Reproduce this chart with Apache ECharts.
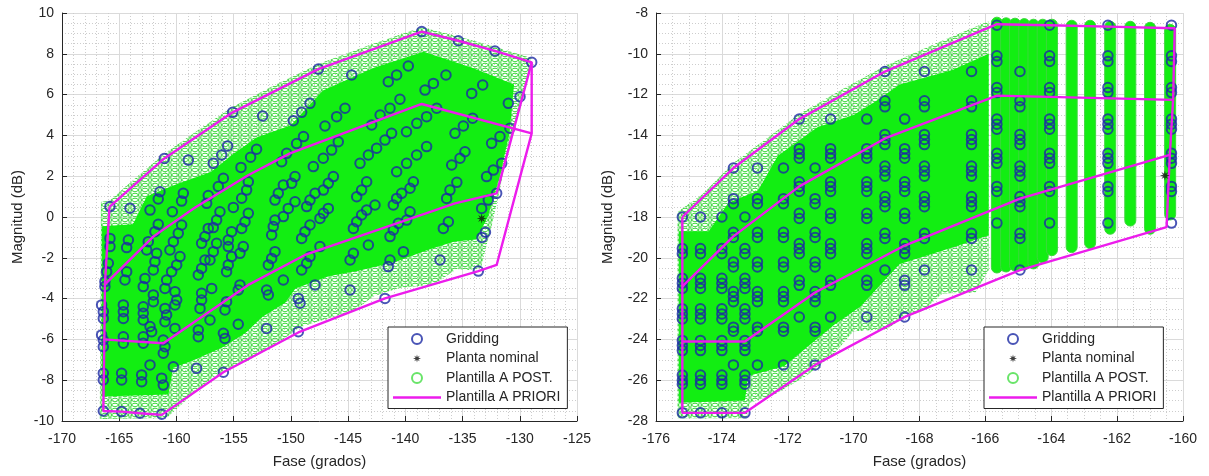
<!DOCTYPE html>
<html><head><meta charset="utf-8">
<script src="https://cdn.jsdelivr.net/npm/echarts/dist/echarts.min.js"></script>
<style>html,body{margin:0;padding:0;background:#fff}#c{width:1209px;height:476px}</style>
</head><body><div id="c"></div><script>
// ---------- axes ----------
const LEFT_X = [-170, -125, 5];
const LEFT_Y = [-10, 10, 2];
const RIGHT_X = [-176, -160, 2];
const RIGHT_Y = [-28, -8, 2];
const X_TITLE = 'Fase (grados)';
const Y_TITLE = 'Magnitud (dB)';
const LEGEND_NAMES = ['Gridding', 'Planta nominal', 'Plantilla A POST.', 'Plantilla A PRIORI'];

// ---------- LEFT plot data ----------
const gridLeft = [
[-165.81,0.51],[-164.06,0.43],[-162.31,0.34],[-160.36,0.26],
[-161.06,2.87],[-158.96,2.79],[-156.78,2.63],
[-155.09,5.13],[-152.47,4.95],[-149.79,4.72],
[-147.6,7.25],[-144.69,6.96],
[-138.57,9.09],[-135.37,8.64],[-132.17,8.14],[-128.96,7.58],
[-156.05,3.04],[-155.53,3.48],
[-154.36,2.43],[-153.52,2.93],[-153.0,3.32],
[-150.81,2.71],[-150.37,3.12],[-149.5,3.6],[-148.9,3.94],
[-149.06,5.13],[-148.33,5.57],
[-141.49,6.63],[-140.76,6.96],[-139.74,7.4],
[-138.28,6.22],[-137.55,6.55],[-136.45,6.96],
[-134.2,6.06],[-133.24,6.47],
[-131.0,5.57],[-129.98,5.9],
[-147.02,4.46],[-146.0,4.92],[-145.27,5.33],
[-142.94,4.51],[-142.2,5.0],[-141.34,5.33],[-140.47,5.77],
[-139.9,4.18],[-139.0,4.59],[-138.14,4.92],[-137.26,5.33],
[-135.66,4.1],[-134.93,4.46],[-134.12,4.84],
[-132.46,3.61],[-131.73,3.94],[-130.86,4.35],
[-148.04,2.47],[-147.17,2.88],[-146.44,3.28],[-145.86,3.69],
[-143.96,2.63],[-143.23,3.04],[-142.51,3.37],[-141.78,3.77],[-141.2,4.1],
[-140.76,2.22],[-139.89,2.63],[-139.01,3.04],[-138.14,3.45],
[-135.95,2.55],[-135.22,2.88],[-134.79,3.2],
[-132.9,1.98],[-132.31,2.3],[-131.58,2.63],
[-133.33,0.42],[-132.75,0.83],[-132.02,1.16],
[-133.3,-1.0],[-133.0,-0.75],[-133.62,-2.65],
[-161.44,1.24],[-161.59,0.88],
[-159.4,1.16],[-159.55,0.78],
[-157.22,1.05],[-157.36,0.67],
[-155.9,1.9],[-156.34,1.49],
[-153.72,1.73],[-153.87,1.32],[-154.3,0.92],[-155.03,0.47],
[-150.66,1.57],[-151.1,1.16],[-151.39,0.83],
[-149.64,1.98],[-149.93,1.65],
[-165.81,-1.05],[-165.81,-1.45],
[-164.2,-1.13],[-164.35,-1.5],
[-161.59,-0.36],[-161.88,-0.72],[-162.46,-1.21],[-162.6,-1.62],
[-159.55,-0.39],[-159.84,-0.8],[-160.27,-1.21],[-160.57,-1.62],
[-157.22,-0.56],[-157.51,-0.96],[-157.8,-1.29],
[-156.2,0.26],[-156.49,-0.15],[-156.78,-0.52],
[-155.18,-0.72],[-155.47,-1.13],[-155.47,-1.45],
[-153.72,0.18],[-154.01,-0.23],[-154.3,-0.56],
[-151.39,-0.15],[-151.54,-0.47],[-151.68,-0.88],
[-150.23,0.42],[-150.66,0.02],[-149.64,0.75],
[-165.95,-2.27],[-166.1,-2.68],[-166.25,-3.17],[-166.25,-3.41],
[-164.35,-2.68],[-164.5,-3.09],
[-161.73,-1.78],[-161.88,-2.19],[-162.02,-2.6],[-162.75,-3.01],[-162.9,-3.41],
[-159.69,-1.94],[-159.98,-2.35],[-160.42,-2.68],[-160.86,-3.09],[-161.0,-3.5],
[-157.51,-2.11],[-157.8,-2.52],[-158.09,-2.84],
[-156.49,-1.29],[-156.78,-1.7],[-157.07,-2.11],
[-155.18,-1.94],[-155.47,-2.35],[-155.62,-2.68],
[-154.16,-1.45],[-154.45,-1.78],
[-151.39,-1.7],[-151.68,-2.03],[-151.97,-2.35],
[-150.66,-3.09],[-154.45,-3.33],[-154.6,-3.58],
[-162.02,-3.82],[-162.02,-4.15],
[-160.13,-3.66],[-159.98,-4.07],[-160.13,-4.31],
[-166.54,-4.31],[-166.39,-4.64],[-166.39,-4.97],
[-164.64,-4.31],[-164.64,-4.64],[-164.64,-4.97],
[-162.9,-4.4],[-162.9,-4.72],[-162.9,-5.05],
[-161.0,-4.48],[-160.86,-4.8],[-161.0,-5.13],
[-162.31,-5.37],[-162.17,-5.62],[-160.13,-5.46],
[-166.54,-5.78],[-166.39,-6.03],[-166.39,-6.36],
[-164.64,-5.87],[-164.64,-6.19],
[-162.9,-5.87],[-162.9,-6.19],
[-161.15,-6.03],[-161.0,-6.36],[-161.15,-6.68],
[-162.31,-7.25],[-160.27,-7.34],
[-166.39,-7.66],[-166.39,-7.99],
[-164.79,-7.66],[-164.79,-7.99],
[-163.04,-7.74],[-163.04,-8.07],
[-161.29,-7.9],[-161.15,-8.24],
[-166.39,-9.51],[-164.79,-9.54],[-163.19,-9.62],[-161.29,-9.67],
[-157.8,-3.74],[-157.8,-4.07],[-157.94,-4.48],[-156.92,-3.5],
[-155.62,-4.15],[-155.76,-4.56],
[-158.09,-5.54],[-158.09,-5.87],
[-155.9,-5.7],[-155.76,-5.95],[-157.07,-5.05],[-154.6,-5.26],
[-152.12,-3.58],[-151.97,-3.82],[-152.12,-5.46],
[-158.24,-7.42],[-155.9,-7.61],[-149.35,-5.62],
[-149.35,-3.99],[-149.2,-4.23],
[-148.62,0.51],[-148.33,0.83],[-147.89,1.16],[-147.16,1.32],[-146.73,1.65],[-146.29,1.98],
[-149.06,-1.05],[-148.77,-0.72],[-148.33,-0.39],[-147.46,-0.07],[-147.16,0.18],[-146.73,0.42],
[-149.06,-2.6],[-148.62,-2.27],[-148.33,-1.94],[-147.46,-1.45],
[-147.89,-3.33],[-144.83,-3.58],
[-144.54,-1.78],[-144.83,-2.11],
[-144.25,0.99],[-143.82,1.32],[-143.38,1.73],
[-144.54,-0.56],[-144.25,-0.23],[-143.82,0.1],[-143.38,0.34],[-142.65,0.59],
[-143.23,-1.37],
[-141.34,-0.96],[-141.05,-0.64],[-140.61,-0.31],[-139.88,-0.15],[-139.59,0.26],
[-141.05,0.59],[-140.76,0.91],[-140.32,1.16],[-139.59,1.41],[-139.3,1.73],
[-141.49,-2.43],[-141.34,-2.11],[-141.78,-3.99],[-140.17,-1.7],[-136.97,-2.11],
[-136.68,-0.56],[-136.24,-0.23],
[-136.39,0.91],[-136.1,1.32],[-135.5,1.7]
];
const nominalLeft = [[-133.33,-0.07]];
const prioriLeftOuter = [[-165.85,0.5],[-161.06,2.87],[-155.09,5.13],[-147.6,7.25],[-138.57,9.09],[-135.37,8.64],[-132.17,8.14],[-128.96,7.58],[-128.96,4.1],[-132.02,-2.35],[-133.62,-2.65],[-141.78,-3.99],[-149.35,-5.66],[-155.9,-7.61],[-161.29,-9.7],[-163.19,-9.62],[-164.79,-9.54],[-166.39,-9.51],[-166.3,-6.0],[-166.25,-3.3],[-165.85,0.5]];
const prioriLeftMid = [[-166.25,-3.3],[-162.0,-0.95],[-158.4,0.45],[-153.7,2.06],[-150.08,3.12],[-138.57,5.54],[-128.96,4.1]];
const prioriLeftLow = [[-166.4,-6.0],[-161.15,-6.19],[-153.72,-3.33],[-148.77,-1.86],[-135.66,0.67],[-132.02,1.16],[-128.96,7.58]];
const postLeftFringe = [[-166.6,0.75],[-165.85,0.8],[-163.5,1.95],[-161.06,3.1],[-158,4.3],[-155.09,5.4],[-151.5,6.45],[-147.6,7.5],[-143,8.45],[-138.57,9.3],[-135.37,8.85],[-132.17,8.35],[-129.0,7.8],[-129.3,6.8],[-129.9,5.6],[-130.6,4.2],[-131.3,2.6],[-131.8,1.2],[-132.4,-0.3],[-133.0,-1.6],[-133.4,-2.5],[-134.5,-2.6],[-135.5,-2.55],[-137.5,-3.3],[-140.7,-3.5],[-142.8,-3.9],[-144.5,-4.6],[-147.2,-5.05],[-149.2,-5.4],[-151.2,-6.2],[-153.6,-7.0],[-156.8,-7.85],[-158.8,-8.8],[-160.85,-9.85],[-166.7,-9.9]];
const postLeftCore = [[-166.5,-0.45],[-163.8,-0.35],[-162.6,1.0],[-160,1.6],[-157,2.2],[-155,3.1],[-153,3.9],[-150,4.5],[-147.2,6.2],[-142.8,7.3],[-138.4,8.1],[-134.1,7.3],[-130.5,6.5],[-130.9,4.1],[-131.7,2.1],[-132.8,0.0],[-133.8,-1.1],[-135.7,-1.2],[-138,-1.6],[-140.9,-2.2],[-143.8,-2.6],[-146.7,-2.9],[-149.6,-3.5],[-150.5,-4.2],[-152.5,-4.9],[-154,-5.7],[-156,-6.4],[-158.4,-7.0],[-160.3,-7.4],[-160.7,-8.7],[-166.5,-8.8]];

// ---------- RIGHT plot data ----------
const gridA_phase = [-175.2,-174.65,-174.0,-173.3];
const gridA_mag = [-18.0,-19.55,-19.8,-21.0,-21.25,-21.5,-22.5,-22.75,-23.0,-24.05,-24.3,-24.55,-25.75,-26.0,-26.2,-27.6];
const gridB_phase = [-173.65,-172.92,-172.13,-171.17];
const gridB_mag = [-15.6,-17.1,-17.35,-18.75,-19.0,-20.2,-20.45,-21.65,-21.9,-22.15,-23.4,-23.6,-25.25];
const gridC_phase = [-171.65,-170.7,-169.6,-168.45];
const gridC_mag = [-13.2,-14.65,-14.9,-15.12,-16.27,-16.5,-16.75,-17.82,-18.07,-19.3,-19.55,-19.8,-21.1,-21.35,-22.9];
const gridD_phase = [-169.05,-167.85,-166.42,-164.95];
const gridD_mag = [-10.87,-12.3,-12.6,-13.95,-14.2,-14.45,-15.5,-15.75,-16.0,-17.0,-17.25,-17.5,-18.8,-19.05,-20.6];
const gridE_phase = [-165.65,-164.05,-162.28,-160.35];
const gridE_mag = [-8.6,-10.1,-10.38,-11.65,-11.9,-13.2,-13.45,-13.7,-14.88,-15.12,-15.37,-16.5,-16.75,-18.3];
const nominalRight = [[-160.55,-15.97]];
const prioriRightOuter = [[-175.2,-18.0],[-173.65,-15.6],[-171.65,-13.2],[-169.05,-10.87],[-165.65,-8.55],[-164.05,-8.6],[-162.28,-8.67],[-160.25,-8.75],[-160.3,-12.26],[-160.4,-14.95],[-160.5,-18.5],[-164.95,-20.6],[-168.45,-22.9],[-171.17,-25.25],[-173.3,-27.6],[-175.2,-27.6],[-175.2,-18.0]];
const prioriRightMid = [[-175.2,-21.4],[-173.65,-18.95],[-171.65,-16.5],[-169.05,-14.15],[-165.65,-12.05],[-160.3,-12.26]];
const prioriRightLow = [[-175.2,-24.1],[-173.3,-24.1],[-171.17,-21.7],[-168.45,-19.4],[-164.95,-17.1],[-160.4,-14.95]];
const postRightFringe = [[-175.35,-17.75],[-174.6,-16.9],[-173.65,-15.35],[-172.6,-14.1],[-171.65,-12.95],[-170.3,-11.7],[-169.05,-10.6],[-167.3,-9.35],[-165.9,-8.4],[-165.9,-20.6],[-166.3,-21.7],[-167.3,-21.75],[-167.9,-22.6],[-168.5,-22.95],[-169.0,-23.5],[-170.0,-23.6],[-170.6,-24.7],[-171.4,-25.75],[-172.4,-26.7],[-173.15,-27.1],[-173.25,-27.87],[-175.35,-27.87]];
const postRightCore = [[-175.3,-18.7],[-174.4,-18.7],[-173.8,-17.3],[-172.9,-16.7],[-172.3,-15.0],[-171.1,-13.6],[-170.0,-13.0],[-169.3,-12.3],[-168.6,-11.5],[-167.0,-10.8],[-165.9,-10.0],[-165.9,-18.9],[-167.0,-19.5],[-168.6,-20.3],[-169.8,-22.4],[-170.6,-23.3],[-171.5,-24.5],[-172.1,-25.3],[-173.2,-25.8],[-173.3,-27.0],[-175.3,-27.1]];
const postColPhase = [-165.65,-165.37,-165.1,-164.82,-164.54,-164.26,-163.98,-163.38,-162.82,-162.21,-161.6,-161.0,-160.39];
const postColTop = [-8.45,-8.48,-8.5,-8.52,-8.55,-8.55,-8.55,-8.6,-8.6,-8.65,-8.65,-8.7,-8.8];
const postColBottom = [-20.5,-20.45,-20.4,-20.35,-20.3,-20.0,-19.65,-19.5,-19.3,-18.6,-18.2,-18.6,-17.9];

// ---------- build ----------
const gridRight = [];
[[gridA_phase,gridA_mag],[gridB_phase,gridB_mag],[gridC_phase,gridC_mag],[gridD_phase,gridD_mag],[gridE_phase,gridE_mag]]
  .forEach(([ph, mg]) => ph.forEach(p => mg.forEach(m => gridRight.push([p, m]))));
const postCols = postColPhase.map((p, i) => [p, postColTop[i], postColBottom[i]]);

const FONT = '"Liberation Sans", Arial, Helvetica, sans-serif';
const C_BLUE = '#1b29a4', C_GREEN = '#12ee12', C_GREEN_LINE = '#3cd83c', C_MAG = '#ec1cec', C_TXT = '#262626';

function circlePattern(color) {
  const c = document.createElement('canvas');
  c.width = 10; c.height = 5;
  const g = c.getContext('2d');
  g.strokeStyle = color; g.lineWidth = 1.1;
  for (let dx = -10; dx <= 10; dx += 10) for (let dy = -5; dy <= 5; dy += 5) {
    g.beginPath(); g.arc(5 + dx, 2.5 + dy, 4.2, 0, Math.PI * 2); g.stroke();
  }
  return c;
}
const PAT = { image: circlePattern(C_GREEN_LINE), repeat: 'repeat' };

function polySeries(pts, idx, fill, z) {
  return {
    type: 'custom', xAxisIndex: idx, yAxisIndex: idx, z: z, silent: true, data: pts,
    renderItem: (params, api) => {
      if (params.dataIndex !== 0) return null;
      return { type: 'polygon', shape: { points: pts.map(p => api.coord(p)) }, style: { fill: fill, stroke: null } };
    }
  };
}
function lineSeries(pts, idx) {
  return { type: 'line', name: 'Plantilla A PRIORI', xAxisIndex: idx, yAxisIndex: idx, data: pts, symbol: 'none',
    showSymbol: false, z: 6, silent: true, lineStyle: { color: C_MAG, width: 2.4 }, itemStyle: { color: C_MAG } };
}
function gridSeries(pts, idx) {
  return { type: 'scatter', name: 'Gridding', xAxisIndex: idx, yAxisIndex: idx, data: pts, symbol: 'circle', symbolSize: 9.5, z: 5, silent: true,
    itemStyle: { color: 'rgba(0,0,0,0)', borderColor: C_BLUE, borderWidth: 2 } };
}
const STAR_BODY = 'M0,-10L1.6,-3.6L7.07,-7.07L3.6,-1.6L10,0L3.6,1.6L7.07,7.07L1.6,3.6L0,10L-1.6,3.6L-7.07,7.07L-3.6,1.6L-10,0L-3.6,-1.6L-7.07,-7.07L-1.6,-3.6Z';
const STAR = 'path://' + STAR_BODY;
const STAR_LEG = 'path://' + STAR_BODY + ' M-12.5,-12.5L-12.4,-12.5L-12.4,-12.4Z M12.5,12.5L12.4,12.5L12.4,12.4Z';
const LINE_LEG = 'path://M0,0L48,0L48,2.4L0,2.4Z';
function nominalSeries(pts, idx) {
  return { type: 'scatter', name: 'Planta nominal', xAxisIndex: idx, yAxisIndex: idx, data: pts, symbol: STAR, symbolSize: 10, z: 7, silent: true,
    itemStyle: { color: '#111' } };
}
function postLegendSeries(idx) {
  return { type: 'scatter', name: 'Plantilla A POST.', xAxisIndex: idx, yAxisIndex: idx, data: [], symbol: 'circle', symbolSize: 9,
    itemStyle: { color: 'rgba(0,0,0,0)', borderColor: '#44dd44', borderWidth: 1.6 } };
}
function xAxis(idx, r) {
  return { gridIndex: idx, type: 'value', min: r[0], max: r[1], interval: r[2],
    name: X_TITLE, nameLocation: 'middle', nameGap: 33,
    nameTextStyle: { fontFamily: FONT, fontSize: 15, color: C_TXT },
    axisLine: { show: true, onZero: false, lineStyle: { color: C_TXT, width: 1 } },
    axisTick: { show: true, inside: true, length: 5, lineStyle: { color: C_TXT } },
    axisLabel: { fontFamily: FONT, fontSize: 14, color: C_TXT, margin: 11, showMinLabel: true, showMaxLabel: true },
    splitLine: { show: true, lineStyle: { color: '#dadada', width: 1 } },
    minorTick: { show: false, splitNumber: idx === 0 ? 5 : 4 },
    minorSplitLine: { show: true, lineStyle: { color: '#cdcdcd', width: 1, type: [1, 2] } } };
}
function yAxis(idx, r, gap) {
  return { gridIndex: idx, type: 'value', min: r[0], max: r[1], interval: r[2],
    name: Y_TITLE, nameLocation: 'middle', nameGap: gap, nameRotate: 90,
    nameTextStyle: { fontFamily: FONT, fontSize: 15, color: C_TXT },
    axisLine: { show: true, onZero: false, lineStyle: { color: C_TXT, width: 1 } },
    axisTick: { show: true, inside: true, length: 5, lineStyle: { color: C_TXT } },
    axisLabel: { fontFamily: FONT, fontSize: 14, color: C_TXT, margin: 8, showMinLabel: true, showMaxLabel: true },
    splitLine: { show: true, lineStyle: { color: '#dadada', width: 1 } },
    minorTick: { show: false, splitNumber: 4 },
    minorSplitLine: { show: true, lineStyle: { color: '#cdcdcd', width: 1, type: [1, 2] } } };
}
function legend(left) {
  return { left: left, top: 327, orient: 'vertical', itemWidth: 48, itemHeight: 10, itemGap: 5.5,
    padding: [5, 7, 4, 5], borderColor: C_TXT, borderWidth: 1, backgroundColor: '#fff', selectedMode: false,
    textStyle: { fontFamily: FONT, fontSize: 14, color: C_TXT, lineHeight: 14 },
    data: [{ name: LEGEND_NAMES[0] }, { name: LEGEND_NAMES[1], icon: STAR_LEG }, { name: LEGEND_NAMES[2] }, { name: LEGEND_NAMES[3], icon: LINE_LEG }] };
}
const colSeries = {
  type: 'custom', xAxisIndex: 1, yAxisIndex: 1, z: 2, silent: true, data: postCols,
  renderItem: (params, api) => {
    const a = api.coord([api.value(0), api.value(1)]);
    const b = api.coord([api.value(0), api.value(2)]);
    return { type: 'rect', shape: { x: a[0] - 5.5, y: a[1] - 5, width: 11, height: b[1] - a[1] + 10, r: 5.5 },
      style: { fill: C_GREEN, stroke: C_GREEN_LINE, lineWidth: 1 } };
  }
};

const chart = echarts.init(document.getElementById('c'), null, { renderer: 'canvas' });
chart.setOption({
  animation: false,
  backgroundColor: '#fff',
  textStyle: { fontFamily: FONT },
  grid: [
    { left: 62, top: 13, width: 515, height: 408, containLabel: false, outerBoundsMode: 'none' },
    { left: 656, top: 13, width: 527, height: 408, containLabel: false, outerBoundsMode: 'none' }
  ],
  xAxis: [xAxis(0, LEFT_X), xAxis(1, RIGHT_X)],
  yAxis: [yAxis(0, LEFT_Y, 37), yAxis(1, RIGHT_Y, 41)],
  legend: [legend(388), legend(984)],
  series: [
    polySeries(postLeftFringe, 0, PAT, 1),
    polySeries(postLeftCore, 0, C_GREEN, 2),
    polySeries(postRightFringe, 1, PAT, 1),
    polySeries(postRightCore, 1, C_GREEN, 2),
    colSeries,
    gridSeries(gridLeft, 0), gridSeries(gridRight, 1),
    nominalSeries(nominalLeft, 0), nominalSeries(nominalRight, 1),
    postLegendSeries(0), postLegendSeries(1),
    lineSeries(prioriLeftOuter, 0), lineSeries(prioriLeftMid, 0), lineSeries(prioriLeftLow, 0),
    lineSeries(prioriRightOuter, 1), lineSeries(prioriRightMid, 1), lineSeries(prioriRightLow, 1)
  ]
});
</script></body></html>
